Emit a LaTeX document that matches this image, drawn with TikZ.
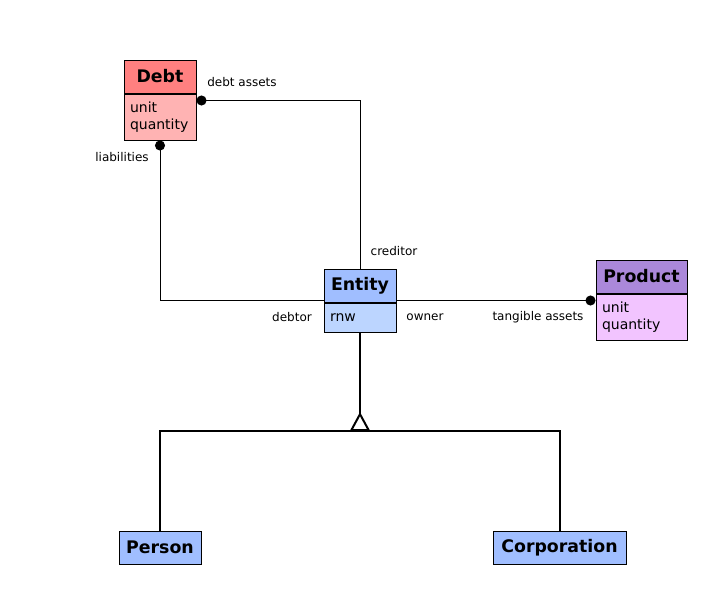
\documentclass[tikz,border=0pt]{standalone}
\usepackage{fontspec}
\setmainfont{DejaVu Sans}
\usetikzlibrary{positioning,arrows.meta}
\definecolor{debthead} {HTML}{FF8080}
\definecolor{debtbody} {HTML}{FFB3B3}
\definecolor{agenthead}{HTML}{A0BEFF}
\definecolor{agentbody}{HTML}{BCD5FF}
\definecolor{prodhead} {HTML}{AB88DA}
\definecolor{prodbody} {HTML}{F2C4FF}

\tikzset{
  classhead/.style={draw,line width=0.75pt,inner sep=0pt,minimum height=24.75pt,
    font=\fontsize{13}{15}\selectfont\bfseries},
  classbody/.style={draw,line width=0.75pt,align=left,inner xsep=4.5pt,inner ysep=0pt,
    font=\fontsize{10.5}{12.75}\selectfont},
  role/.style={font=\fontsize{9}{11}\selectfont},
  assoc/.style={line width=0.75pt,{Circle[length=7.5pt]}-},
  isa/.style={line width=1.5pt},
}

\begin{document}
\begin{tikzpicture}[x=0.75pt,y=-0.75pt]
  \useasboundingbox (0,0) rectangle (720,600);
  % classes
  \node[classhead,fill=debthead,minimum width=54pt] (debt) at (160,76.5) {Debt};
  \node[classbody,fill=debtbody,text width=45pt,minimum height=34.5pt,below=0pt of debt]
    (debtattr) {unit\\quantity};
  \node[classhead,fill=agenthead,minimum width=54pt] (entity) at (360,285.5) {Entity};
  \node[classbody,fill=agentbody,text width=45pt,minimum height=21.75pt,below=0pt of entity]
    (entityattr) {rnw};
  \node[classhead,fill=prodhead,minimum width=68.25pt] (prod) at (641.5,276.5) {Product};
  \node[classbody,fill=prodbody,text width=59.25pt,minimum height=34.5pt,below=0pt of prod]
    (prodattr) {unit\\quantity};
  \node[classhead,fill=agenthead,minimum width=61.5pt] (person) at (160,547.5) {Person};
  \node[classhead,fill=agenthead,minimum width=99.75pt] (corp) at (559.5,547.5) {Corporation};

  % associations
  \draw[assoc] ([yshift=-5.25pt]debtattr.north east) -| (entity.north);
  \draw[assoc] (debtattr.south) |- ([yshift=1.5pt]entityattr.north west);
  \draw[assoc] ([yshift=-5.25pt]prodattr.north west) -- ([yshift=1.5pt]entityattr.north east);

  % generalisation
  \coordinate (fork) at (360,431);
  \draw[isa] (person.north) |- (fork) -| (corp.north);
  \draw[isa,{Triangle[open,reversed,length=14.25pt,width=15pt]}-] (fork) -- (entityattr.south);

  % role names
  \foreach \name/\x/\y/\txt in {debtassets/242/82/debt assets, creditor/394/251/creditor,
      liabilities/122/157/liabilities, debtor/292/317/debtor,
      owner/425/317/owner, tangible/538/317/tangible assets}
    \node[role] (\name) at (\x,\y) {\txt};
\end{tikzpicture}
\end{document}
